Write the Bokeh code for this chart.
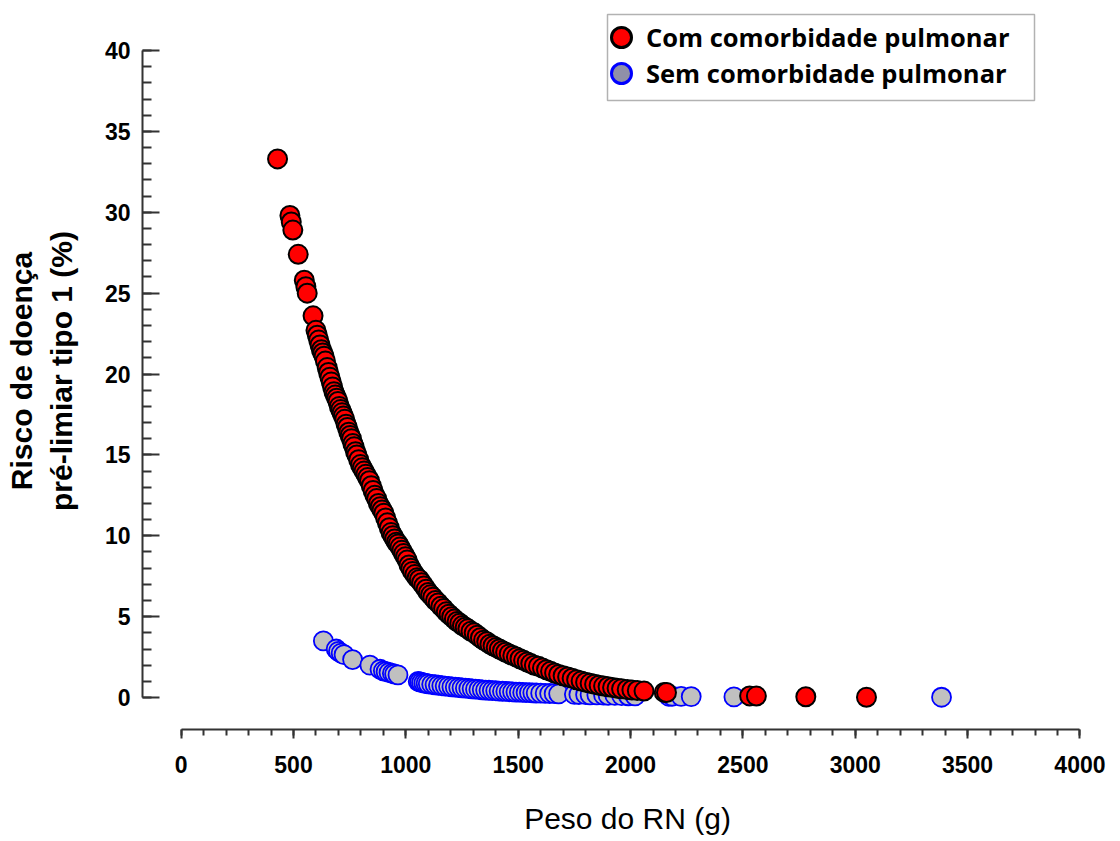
from bokeh.plotting import figure
from bokeh.models import (ColumnDataSource, Range1d, SingleIntervalTicker,
                          Legend, LegendItem, BoxAnnotation)
from bokeh.embed import file_html
from bokeh.resources import INLINE

# ---- data (birth weight g, risk %) ----
red_peso = [
    429, 484, 490, 497, 521, 548, 555, 561, 587, 600,
    606, 612, 618, 624, 630, 636, 642, 650, 656, 662,
    668, 674, 680, 686, 692, 698, 704, 710, 716, 722,
    728, 734, 740, 746, 752, 758, 764, 770, 776, 782,
    790, 798, 806, 814, 822, 830, 838, 846, 854, 862,
    870, 878, 886, 894, 902, 910, 918, 926, 934, 942,
    950, 958, 966, 974, 982, 990, 998, 1006, 1014, 1022,
    1030, 1040, 1050, 1060, 1070, 1080, 1090, 1100, 1110, 1120,
    1132, 1144, 1156, 1168, 1180, 1192, 1204, 1216, 1228, 1240,
    1252, 1264, 1276, 1290, 1304, 1318, 1332, 1346, 1360, 1374,
    1388, 1402, 1416, 1430, 1444, 1460, 1476, 1492, 1508, 1524,
    1540, 1556, 1572, 1590, 1608, 1626, 1644, 1662, 1680, 1700,
    1720, 1740, 1760, 1780, 1800, 1820, 1840, 1860, 1880, 1900,
    1920, 1940, 1960, 1985, 2006, 2030, 2060, 2150, 2160, 2530,
    2560, 2780, 3050,
]
red_risco = [
    33.3, 29.8, 29.4, 28.9, 27.4, 25.8, 25.4, 25.0, 23.6, 22.7,
    22.4, 22.1, 21.8, 21.5, 21.3, 21.1, 20.8, 20.4, 20.1, 19.8,
    19.5, 19.2, 18.9, 18.7, 18.5, 18.3, 18.0, 17.8, 17.6, 17.4,
    17.2, 16.9, 16.7, 16.4, 16.2, 16.0, 15.7, 15.5, 15.2, 15.0,
    14.7, 14.4, 14.2, 14.0, 13.8, 13.6, 13.4, 13.1, 12.8, 12.5,
    12.3, 12.0, 11.8, 11.6, 11.4, 11.1, 10.8, 10.5, 10.2, 10.0,
    9.8, 9.6, 9.5, 9.3, 9.1, 8.9, 8.7, 8.5, 8.2, 8.0,
    7.8, 7.6, 7.4, 7.3, 7.1, 6.9, 6.7, 6.5, 6.35, 6.2,
    6.0, 5.85, 5.65, 5.5, 5.3, 5.15, 5.0, 4.85, 4.7, 4.6,
    4.45, 4.35, 4.25, 4.1, 4.0, 3.85, 3.7, 3.55, 3.45, 3.3,
    3.2, 3.1, 3.0, 2.9, 2.8, 2.7, 2.6, 2.5, 2.4, 2.3,
    2.2, 2.1, 2.0, 1.93, 1.82, 1.72, 1.62, 1.52, 1.43, 1.35,
    1.27, 1.2, 1.1, 1.02, 0.95, 0.88, 0.82, 0.76, 0.71, 0.67,
    0.62, 0.58, 0.54, 0.5, 0.47, 0.44, 0.40, 0.32, 0.31, 0.1,
    0.09, 0.05, 0.02,
]
blue_peso = [
    633, 690, 700, 712, 725, 763, 840, 885, 900, 912,
    925, 940, 950, 965, 1055, 1062, 1070, 1080, 1090, 1100,
    1115, 1130, 1145, 1160, 1175, 1190, 1205, 1220, 1235, 1250,
    1265, 1280, 1295, 1310, 1325, 1340, 1355, 1370, 1385, 1400,
    1415, 1430, 1445, 1460, 1475, 1490, 1505, 1520, 1535, 1550,
    1565, 1580, 1600, 1620, 1640, 1660, 1680, 1750, 1770, 1800,
    1820, 1850, 1880, 1900, 1930, 1960, 1990, 2020, 2170, 2185,
    2225, 2270, 2460, 3384,
]
blue_risco = [
    3.5, 3.0, 2.85, 2.75, 2.65, 2.35, 2.0, 1.75, 1.65, 1.6,
    1.55, 1.5, 1.45, 1.4, 1.0, 0.97, 0.93, 0.9, 0.88, 0.85,
    0.82, 0.79, 0.76, 0.73, 0.71, 0.69, 0.66, 0.64, 0.62, 0.6,
    0.58, 0.56, 0.54, 0.52, 0.5, 0.48, 0.46, 0.45, 0.43, 0.42,
    0.4, 0.39, 0.38, 0.36, 0.35, 0.34, 0.33, 0.32, 0.31, 0.3,
    0.29, 0.28, 0.27, 0.26, 0.25, 0.24, 0.23, 0.2, 0.19, 0.18,
    0.17, 0.16, 0.15, 0.14, 0.13, 0.12, 0.11, 0.1, 0.08, 0.08,
    0.07, 0.06, 0.04, 0.02,
]
legend_labels = ["Com comorbidade pulmonar", "Sem comorbidade pulmonar"]
x_title = "Peso do RN (g)"
y_title = "Risco de doença\npré-limiar tipo 1 (%)"

red_src = ColumnDataSource(dict(peso=red_peso, risco=red_risco))
blue_src = ColumnDataSource(dict(peso=blue_peso, risco=blue_risco))

# ---- layout (screen px inside the figure) ----
FIG_W, FIG_H = 1112, 837
B_LEFT, B_RIGHT, B_TOP, B_BOTTOM = 142, 0, 12, 107
FRAME_W = FIG_W - B_LEFT - B_RIGHT
FRAME_H = FIG_H - B_TOP - B_BOTTOM
PX_PER_G = 0.2247
X0 = -172
X1 = X0 + FRAME_W / PX_PER_G
Y0, Y1 = -1.975, 42.35

def data_x(px):  # px measured from frame left
    return X0 + (X1 - X0) * px / FRAME_W

def data_y(px):  # px measured from frame top
    return Y1 - (Y1 - Y0) * px / FRAME_H

p = figure(width=FIG_W, height=FIG_H, output_backend="svg", toolbar_location=None,
           x_range=Range1d(X0, X1), y_range=Range1d(Y0, Y1),
           min_border_left=B_LEFT, min_border_right=B_RIGHT,
           min_border_top=B_TOP, min_border_bottom=B_BOTTOM)
p.outline_line_color = None
p.grid.visible = False
p.background_fill_color = "white"
p.border_fill_color = "white"

AX = "#333333"
xa = p.xaxis[0]
xa.ticker = SingleIntervalTicker(interval=500, num_minor_ticks=5)
xa.bounds = (0, 4000)
xa.axis_line_color = AX
xa.axis_line_width = 2
xa.major_tick_line_color = AX
xa.minor_tick_line_color = AX
xa.major_tick_line_width = 2
xa.minor_tick_line_width = 2
xa.major_tick_in = 0
xa.major_tick_out = 9
xa.minor_tick_in = 0
xa.minor_tick_out = 6
xa.major_label_text_font = "Liberation Sans"
xa.major_label_text_font_style = "bold"
xa.major_label_text_font_size = "23px"
xa.major_label_text_color = "black"
xa.major_label_standoff = 17
xa.axis_label = x_title
xa.axis_label_text_font = "Liberation Sans"
xa.axis_label_text_font_style = "normal"
xa.axis_label_text_font_size = "30px"
xa.axis_label_text_color = "black"
xa.axis_label_standoff = 26

ya = p.yaxis[0]
ya.ticker = SingleIntervalTicker(interval=5, num_minor_ticks=5)
ya.bounds = (0, 40)
ya.axis_line_color = AX
ya.axis_line_width = 2
ya.major_tick_line_color = AX
ya.minor_tick_line_color = AX
ya.major_tick_line_width = 2
ya.minor_tick_line_width = 2
ya.major_tick_in = 17
ya.major_tick_out = 0
ya.minor_tick_in = 9
ya.minor_tick_out = 0
ya.major_label_text_font = "Liberation Sans"
ya.major_label_text_font_style = "bold"
ya.major_label_text_font_size = "23px"
ya.major_label_text_color = "black"
ya.major_label_standoff = 12
ya.axis_label = y_title
ya.axis_label_text_font = "Liberation Sans"
ya.axis_label_text_font_style = "bold"
ya.axis_label_text_font_size = "30px"
ya.axis_label_text_color = "black"
ya.axis_label_standoff = 24

p.scatter("peso", "risco", source=blue_src, size=19, fill_color="#c0c0c0",
          line_color="#0000ff", line_width=1.8)
p.scatter("peso", "risco", source=red_src, size=19, fill_color="#ff0000",
          line_color="black", line_width=2.0)

# legend frame
p.add_layout(BoxAnnotation(left=data_x(465), right=data_x(892),
                           top=data_y(2), bottom=data_y(88),
                           fill_alpha=0, line_color="black", line_width=1.5))

# legend-only renderers (NaN coordinates: nothing drawn in the plot area)
nan = float("nan")
leg_red = p.scatter([nan], [nan], size=19, fill_color="#ff0000",
                    line_color="black", line_width=3)
leg_blue = p.scatter([nan], [nan], size=19, fill_color="#9090a8",
                     line_color="#0000ff", line_width=3)

common = dict(glyph_width=50, glyph_height=50, spacing=0, padding=0, margin=0,
              label_standoff=0, label_text_font="Open Sans",
              label_text_font_style="bold", label_text_font_size="25.5px",
              label_text_color="black", border_line_alpha=0,
              background_fill_alpha=0)
legend_a = Legend(items=[LegendItem(label=legend_labels[0], renderers=[leg_red])],
                  location=(454, FRAME_H - 51), **common)
legend_b = Legend(items=[LegendItem(label=legend_labels[1], renderers=[leg_blue])],
                  location=(454, FRAME_H - 87), **common)
p.add_layout(legend_a)
p.add_layout(legend_b)

open("out.html", "w").write(file_html(p, INLINE))
